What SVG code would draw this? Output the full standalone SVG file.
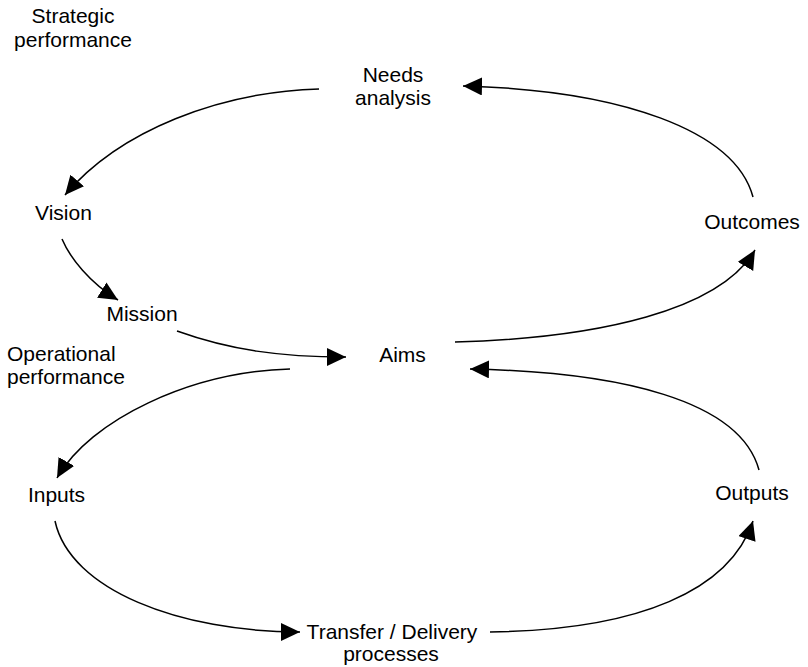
<svg xmlns="http://www.w3.org/2000/svg" width="808" height="667" viewBox="0 0 808 667">
  <style>
    text { font-family: "Liberation Sans", Arial, Helvetica, sans-serif; font-size: 21px; fill: #000; }
    .c { text-anchor: middle; }
    .edge { fill: none; stroke: #000; stroke-width: 1.5; marker-end: url(#arrow); }
  </style>
  <defs>
    <marker id="arrow" markerUnits="userSpaceOnUse" markerWidth="20" markerHeight="20" refX="19" refY="9" orient="auto">
      <path d="M0,0 L19,9 L0,18 Z" fill="#000"/>
    </marker>
  </defs>
  <rect width="808" height="667" fill="#fff"/>

  <!-- section headings -->
  <g id="strategic-heading">
    <text class="c" x="73" y="23">Strategic</text>
    <text class="c" x="73" y="46.5">performance</text>
  </g>
  <g id="operational-heading">
    <text x="7" y="361">Operational</text>
    <text x="7" y="384">performance</text>
  </g>

  <!-- nodes -->
  <g id="needs-analysis">
    <text class="c" x="393" y="82">Needs</text>
    <text class="c" x="393" y="104.5">analysis</text>
  </g>
  <g id="vision"><text class="c" x="63.5" y="220">Vision</text></g>
  <g id="mission"><text class="c" x="142" y="320.5">Mission</text></g>
  <g id="aims"><text class="c" x="402.5" y="362">Aims</text></g>
  <g id="outcomes"><text class="c" x="752" y="229">Outcomes</text></g>
  <g id="inputs"><text class="c" x="56.5" y="502">Inputs</text></g>
  <g id="outputs"><text class="c" x="752" y="500">Outputs</text></g>
  <g id="transfer-delivery">
    <text class="c" x="392" y="639">Transfer / Delivery</text>
    <text class="c" x="391" y="661">processes</text>
  </g>

  <!-- connectors -->
  <g id="connectors">
    <path class="edge" d="M319,89 C220,92 120,130 65,195"/>
    <path class="edge" d="M753,197 C735,130 620,90 463,86"/>
    <path class="edge" d="M62,239 C70,258 90,283 118,300"/>
    <path class="edge" d="M177,331 C230,350 280,357 346,357"/>
    <path class="edge" d="M455,342 C600,338 720,310 755,250"/>
    <path class="edge" d="M290,369 C190,372 90,420 57,478"/>
    <path class="edge" d="M55,521 C70,590 180,632 300,632"/>
    <path class="edge" d="M490,632 C640,630 730,590 753,521"/>
    <path class="edge" d="M759,470 C740,400 620,372 470,369"/>
  </g>
</svg>
